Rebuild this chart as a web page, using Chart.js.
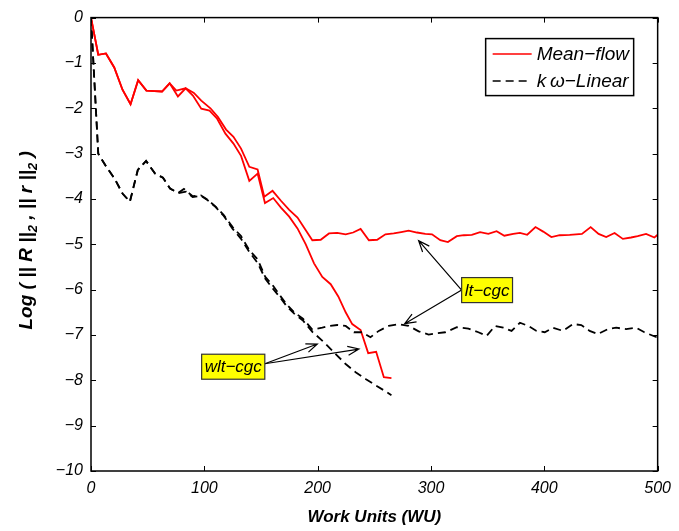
<!DOCTYPE html>
<html>
<head>
<meta charset="utf-8">
<script src="https://cdn.jsdelivr.net/npm/chart.js@4.4.0/dist/chart.umd.min.js"></script>
<style>
  html, body { margin: 0; padding: 0; background: #fff; }
</style>
</head>
<body>
<canvas id="myChart" width="679" height="531"></canvas>
<script>
// Mean-flow residual, lt-cgc
var mfLtX = [0, 6.4, 13.2, 20.5, 27.8, 34.9, 41.6, 48.9, 56, 62.7, 69.4, 75.3, 83.5, 90.8, 97.3, 105.4, 111.9, 119.2, 125.7, 132.4, 139.7, 147, 152.9, 160.2, 167.6, 174.9, 182.2, 188.8, 195.3, 202.7, 210, 217.3, 224.7, 231.3, 237.9, 245.2, 252.5, 259.8, 267.1, 273.7, 280.3, 287.6, 295, 300.9, 308.2, 314.9, 322.8, 329, 336, 343.3, 350.6, 357.9, 364.7, 372.6, 378.5, 384.9, 392.2, 399, 406.2, 413.6, 422.4, 428, 433.2, 440.9, 447.9, 454.6, 462, 469.3, 476.5, 482.4, 489.8, 497.1, 500];
var mfLtY = [0, -0.82, -0.79, -1.10, -1.59, -1.91, -1.38, -1.61, -1.62, -1.63, -1.45, -1.61, -1.56, -1.66, -1.83, -2.00, -2.19, -2.47, -2.63, -2.89, -3.29, -3.35, -3.95, -3.82, -4.04, -4.24, -4.41, -4.66, -4.91, -4.90, -4.76, -4.75, -4.78, -4.74, -4.66, -4.91, -4.90, -4.78, -4.76, -4.73, -4.70, -4.74, -4.77, -4.78, -4.91, -4.95, -4.82, -4.80, -4.79, -4.73, -4.77, -4.71, -4.81, -4.77, -4.75, -4.79, -4.62, -4.72, -4.84, -4.80, -4.79, -4.78, -4.77, -4.62, -4.77, -4.84, -4.75, -4.88, -4.85, -4.82, -4.77, -4.85, -4.79];

// Mean-flow residual, wlt-cgc
var mfWltX = [0, 6.4, 13.2, 20.5, 27.8, 34.9, 41.6, 48.9, 56, 62.7, 69.4, 76.7, 83.5, 89.9, 97.3, 104.6, 111.3, 118.6, 125.7, 132.4, 139.7, 147, 153.5, 160.8, 167.6, 174.9, 182.2, 189.5, 196.8, 204.1, 211.5, 218.2, 224.7, 230.5, 237.9, 244.6, 251.6, 258.4, 265.1];
var mfWltY = [0, -0.82, -0.79, -1.10, -1.59, -1.91, -1.38, -1.61, -1.62, -1.63, -1.45, -1.74, -1.56, -1.72, -2.01, -2.05, -2.23, -2.56, -2.78, -3.05, -3.60, -3.44, -4.09, -3.98, -4.19, -4.39, -4.65, -5.00, -5.42, -5.72, -5.88, -6.15, -6.50, -6.76, -6.89, -7.40, -7.37, -7.93, -7.95];

// k-omega linear residual, lt-cgc
var kwLtX = [0, 6.4, 13.5, 20.8, 27.8, 34.3, 41.3, 48.6, 56.5, 63.5, 69.8, 76.8, 82, 89.7, 97, 103, 110, 117, 125, 132.4, 139.7, 147, 153.8, 160.2, 166.5, 172.5, 179.3, 187, 195.3, 204.1, 210.5, 217.3, 224.7, 232, 239.3, 246.6, 253.9, 262.7, 271.5, 280.3, 289.1, 297.9, 305, 312.6, 322.8, 333, 341.8, 349.1, 356.5, 363.8, 371.1, 378.5, 385.8, 393.1, 400.4, 407.7, 416.5, 425.3, 432.6, 440, 447.3, 456.1, 463.4, 472.2, 481, 488.3, 500];
var kwLtY = [0, -3.00, -3.29, -3.55, -3.88, -4.06, -3.36, -3.16, -3.44, -3.53, -3.77, -3.87, -3.78, -3.94, -3.92, -4.02, -4.17, -4.35, -4.62, -4.82, -5.13, -5.33, -5.72, -5.90, -6.12, -6.32, -6.50, -6.64, -6.88, -6.84, -6.80, -6.78, -6.80, -6.94, -6.94, -7.05, -6.91, -6.80, -6.76, -6.80, -6.92, -6.99, -6.96, -6.94, -6.83, -6.86, -6.94, -7.02, -6.80, -6.84, -6.91, -6.73, -6.80, -6.91, -6.94, -6.84, -6.91, -6.76, -6.78, -6.91, -6.98, -6.87, -6.84, -6.87, -6.84, -6.94, -7.06];

// k-omega linear residual, wlt-cgc
var kwWltX = [0, 6.4, 13.5, 20.8, 27.8, 34.3, 41.3, 48.6, 56.5, 63.5, 69.8, 76.8, 84, 89.7, 97, 103, 110, 117, 125, 132.4, 139.7, 147, 153.8, 160.2, 166.5, 172.5, 179.3, 187, 195.3, 205.6, 215.9, 224.7, 233.5, 242.3, 251.1, 258.4, 265.1];
var kwWltY = [0, -3.00, -3.29, -3.55, -3.88, -4.06, -3.36, -3.16, -3.44, -3.53, -3.77, -3.87, -3.84, -3.96, -3.93, -4.03, -4.18, -4.37, -4.66, -4.88, -5.17, -5.41, -5.76, -5.97, -6.16, -6.36, -6.53, -6.68, -6.93, -7.16, -7.42, -7.64, -7.82, -7.97, -8.11, -8.22, -8.33];

var xTicks = [0, 100, 200, 300, 400, 500];
var yTicks = [0, -1, -2, -3, -4, -5, -6, -7, -8, -9, -10];
var legendLabels = ['Mean\u2212flow', 'k\u2009\u03c9\u2212Linear'];

// text boxes with arrows (data coords)
var notes = [
  { text: 'lt\u2212cgc', x: 349.5, y: -6.01, side: 'left', tips: [[289.1, -4.92], [276.8, -6.75]] },
  { text: 'wlt\u2212cgc', x: 125.5, y: -7.70, side: 'right', tips: [[199.7, -7.20], [236.4, -7.31]] }
];

// y title pieces: [text, subscript?]
var yTitle = [['Log (', 0], [' || ', 0], ['R', 0], [' ||', 0], ['2', 1], [' , ', 0], ['|| ', 0], ['r', 0], [' ||', 0], ['2', 1], [' )', 0]];

function pts(xs, ys) {
  return xs.map(function (x, i) { return { x: x, y: ys[i] }; });
}

var FONT = "'Liberation Sans', Arial, sans-serif";

function arrow(ctx, x1, y1, x2, y2) {
  var a = Math.atan2(y2 - y1, x2 - x1);
  var h = 12, w = 0.38;
  ctx.beginPath();
  ctx.moveTo(x1, y1);
  ctx.lineTo(x2, y2);
  ctx.moveTo(x2 - h * Math.cos(a - w), y2 - h * Math.sin(a - w));
  ctx.lineTo(x2, y2);
  ctx.lineTo(x2 - h * Math.cos(a + w), y2 - h * Math.sin(a + w));
  ctx.stroke();
}

var matlabLook = {
  id: 'matlabLook',
  afterDatasetsDraw: function (chart) {
    var ctx = chart.ctx, ca = chart.chartArea;
    var xs = chart.scales.x, ys = chart.scales.y;
    ctx.save();
    ctx.strokeStyle = '#000';
    ctx.lineWidth = 1.5;
    ctx.setLineDash([]);
    ctx.strokeRect(ca.left, ca.top, ca.right - ca.left, ca.bottom - ca.top);
    // inward ticks on all four sides
    ctx.lineWidth = 1;
    ctx.beginPath();
    xTicks.forEach(function (v) {
      var p = Math.round(xs.getPixelForValue(v)) + 0.5;
      ctx.moveTo(p, ca.bottom); ctx.lineTo(p, ca.bottom - 5);
      ctx.moveTo(p, ca.top); ctx.lineTo(p, ca.top + 5);
    });
    yTicks.forEach(function (v) {
      var p = Math.round(ys.getPixelForValue(v)) + 0.5;
      ctx.moveTo(ca.left, p); ctx.lineTo(ca.left + 5, p);
      ctx.moveTo(ca.right, p); ctx.lineTo(ca.right - 5, p);
    });
    ctx.stroke();

    // legend box
    var bx = ca.right - 172, by = ca.top + 21, bw = 148, bh = 57;
    ctx.fillStyle = '#fff';
    ctx.fillRect(bx, by, bw, bh);
    ctx.lineWidth = 1.5;
    ctx.strokeRect(bx, by, bw, bh);
    ctx.font = 'italic 19px ' + FONT;
    ctx.textBaseline = 'middle';
    ctx.textAlign = 'left';
    chart.data.datasets.slice(0, 2).forEach(function (ds, i) {
      var ly = by + 15.5 + i * 27;
      ctx.strokeStyle = ds.borderColor;
      ctx.lineWidth = 1.5;
      ctx.setLineDash(ds.borderDash || []);
      ctx.beginPath();
      ctx.moveTo(bx + 7, ly); ctx.lineTo(bx + 46, ly);
      ctx.stroke();
      ctx.setLineDash([]);
      ctx.fillStyle = '#000';
      ctx.fillText(legendLabels[i], bx + 51, ly + 1);
    });

    // annotation boxes and arrows
    ctx.font = 'italic 17px ' + FONT;
    notes.forEach(function (n) {
      var cx = xs.getPixelForValue(n.x), cy = ys.getPixelForValue(n.y);
      var tw = ctx.measureText(n.text).width;
      var w = tw + 6, h = 25;
      var sx = n.side === 'left' ? cx - w / 2 : cx + w / 2;
      ctx.strokeStyle = '#000';
      ctx.lineWidth = 1.2;
      n.tips.forEach(function (t) {
        arrow(ctx, sx, cy - (n.side === 'right' ? 3 : 0), xs.getPixelForValue(t[0]), ys.getPixelForValue(t[1]));
      });
      ctx.fillStyle = '#ffff00';
      ctx.fillRect(cx - w / 2, cy - h / 2, w, h);
      ctx.strokeStyle = '#333';
      ctx.lineWidth = 1.2;
      ctx.strokeRect(cx - w / 2, cy - h / 2, w, h);
      ctx.fillStyle = '#000';
      ctx.textAlign = 'center';
      ctx.fillText(n.text, cx, cy + 1);
    });

    // y axis title with subscripts
    ctx.translate(32, (ca.top + ca.bottom) / 2 - 4);
    ctx.rotate(-Math.PI / 2);
    ctx.textAlign = 'left';
    ctx.textBaseline = 'alphabetic';
    var big = 'italic bold 19px ' + FONT, small = 'italic bold 13px ' + FONT;
    var total = 0;
    yTitle.forEach(function (p) { ctx.font = p[1] ? small : big; total += ctx.measureText(p[0]).width; });
    var tx = -total / 2;
    ctx.fillStyle = '#000';
    yTitle.forEach(function (p) {
      ctx.font = p[1] ? small : big;
      ctx.fillText(p[0], tx, p[1] ? 5 : 0);
      tx += ctx.measureText(p[0]).width;
    });
    ctx.restore();
  }
};

var ctx = document.getElementById('myChart').getContext('2d');
var chart = new Chart(ctx, {
  type: 'line',
  data: {
    datasets: [
      { label: 'Mean-flow lt-cgc', data: pts(mfLtX, mfLtY), borderColor: '#ff0000', borderWidth: 1.8 },
      { label: 'k-omega lt-cgc', data: pts(kwLtX, kwLtY), borderColor: '#000000', borderWidth: 1.8, borderDash: [8, 5] },
      { label: 'Mean-flow wlt-cgc', data: pts(mfWltX, mfWltY), borderColor: '#ff0000', borderWidth: 1.8 },
      { label: 'k-omega wlt-cgc', data: pts(kwWltX, kwWltY), borderColor: '#000000', borderWidth: 1.8, borderDash: [8, 5] }
    ]
  },
  options: {
    responsive: false,
    animation: false,
    elements: { point: { radius: 0 }, line: { tension: 0, fill: false } },
    layout: { padding: { top: 15, right: 19, left: 0, bottom: 0 } },
    plugins: { legend: { display: false }, tooltip: { enabled: false } },
    scales: {
      x: {
        type: 'linear', min: 0, max: 500,
        grid: { display: false, drawTicks: false },
        border: { display: false },
        afterFit: function (s) { s.height = 60; },
        afterBuildTicks: function (s) { s.ticks = xTicks.map(function (v) { return { value: v }; }); },
        ticks: { color: '#000', padding: 8, maxRotation: 0, font: { family: FONT, size: 16, style: 'italic' } },
        title: { display: true, text: 'Work Units (WU)', color: '#000', padding: { top: 0, bottom: 3 },
                 font: { family: FONT, size: 17, style: 'italic', weight: 'bold' } }
      },
      y: {
        min: -10, max: 0,
        grid: { display: false, drawTicks: false },
        border: { display: false },
        afterFit: function (s) { s.width = 91; },
        afterBuildTicks: function (s) { s.ticks = yTicks.map(function (v) { return { value: v }; }); },
        ticks: {
          color: '#000', padding: 8,
          font: { family: FONT, size: 16, style: 'italic' },
          callback: function (v) { return v < 0 ? '\u2212' + Math.abs(v) : '' + v; }
        },
        title: { display: false }
      }
    }
  },
  plugins: [matlabLook]
});
</script>
</body>
</html>
